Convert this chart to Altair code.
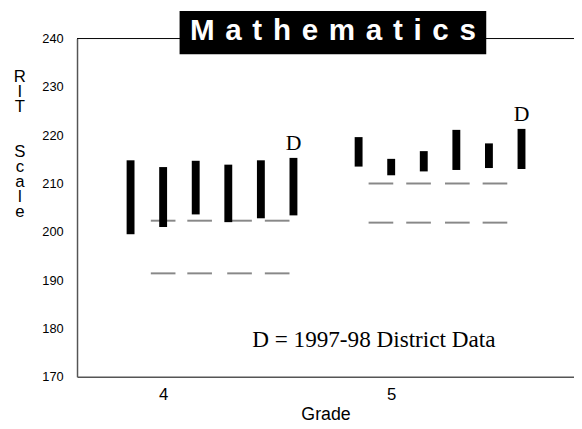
import altair as alt
import pandas as pd

# ---- data ----
bar_grade = [4, 4, 4, 4, 4, 4, 5, 5, 5, 5, 5, 5]
bar_slot = [0, 1, 2, 3, 4, 5, 0, 1, 2, 3, 4, 5]
bar_low = [199.5, 201.0, 203.6, 202.0, 202.8, 203.4,
           213.5, 211.7, 212.5, 212.8, 213.2, 213.0]
bar_high = [214.8, 213.4, 214.7, 213.9, 214.8, 215.3,
            219.6, 215.1, 216.7, 221.1, 218.3, 221.3]
bar_label = ["", "", "", "", "", "D", "", "", "", "", "", "D"]

dash_x = [4.0, 4.16, 4.335, 4.50, 4.955, 5.12, 5.29, 5.455]
dash_upper = [202.3, 202.3, 202.3, 202.3, 210.0, 210.0, 210.0, 210.0]
dash_lower = [191.4, 191.4, 191.4, 191.4, 201.9, 201.9, 201.9, 201.9]

x_ticks = [4, 5]
y_ticks = [170, 180, 190, 200, 210, 220, 230, 240]
title_text = "Mathematics"
y_title_1 = ["R", "I", "T"]
y_title_2 = ["S", "c", "a", "l", "e"]
x_title = "Grade"
footnote = "D = 1997-98 District Data"

W, H = 504, 343
LH = 15.2

bars_df = pd.DataFrame({"grade": bar_grade, "slot": bar_slot,
                        "low": bar_low, "high": bar_high, "label": bar_label})
dash_df = pd.DataFrame({"x": dash_x * 2, "v": dash_upper + dash_lower})

x_scale = alt.Scale(domain=[3.644, 5.780], nice=False, zero=False)
y_scale = alt.Scale(domain=[170, 240], nice=False, zero=False)

x_axis = alt.Axis(values=x_ticks, format="d", grid=False, ticks=False, tickSize=0,
                  domainColor="#555555", domainWidth=1.5,
                  labelFont="Liberation Sans", labelFontSize=17, labelColor="black",
                  labelBaseline="alphabetic", labelPadding=23,
                  title=x_title, titleFont="Liberation Sans", titleFontSize=18,
                  titleFontWeight="normal", titleColor="black",
                  titleBaseline="alphabetic", titleY=43, titleX=W / 2, titleAlign="center")
y_axis = alt.Axis(values=y_ticks, grid=False, ticks=False, tickSize=0,
                  domainColor="#555555", domainWidth=1.5,
                  labelFont="Liberation Sans", labelFontSize=13, labelColor="black",
                  labelPadding=14, title=None)

base = alt.Chart(bars_df).transform_calculate(
    xpos="datum.grade + (datum.slot - 1) / 7"
)

bars = base.mark_bar(size=8, color="black").encode(
    x=alt.X("xpos:Q", scale=x_scale, axis=x_axis),
    y=alt.Y("low:Q", scale=y_scale, axis=y_axis),
    y2="high:Q",
)

dlabels = base.transform_filter("datum.label != ''").mark_text(
    font="Liberation Serif", fontSize=22, baseline="alphabetic", dy=-8, color="black"
).encode(
    x=alt.X("xpos:Q", scale=x_scale),
    y=alt.Y("high:Q", scale=y_scale),
    text="label:N",
)

dashes = alt.Chart(dash_df).mark_tick(
    orient="horizontal", size=25, thickness=2, color="#555555"
).encode(
    x=alt.X("x:Q", scale=x_scale),
    y=alt.Y("v:Q", scale=y_scale),
)

one = pd.DataFrame({"t": [title_text]})

top_line = alt.Chart(one).mark_rule(color="black", strokeWidth=1).encode(
    x=alt.value(0), x2=alt.value(W), y=alt.value(0)
)

title_box = alt.Chart(one).mark_rect(color="black").encode(
    x=alt.value(104), x2=alt.value(415), y=alt.value(-28), y2=alt.value(16)
)

spaced = ("\u0020\u200a").join(list(title_text))
title_txt = alt.Chart(one).mark_text(
    font="Liberation Sans", fontSize=30, fontWeight="bold", color="white",
    align="center", baseline="alphabetic", text=spaced
).encode(x=alt.value(259.5), y=alt.value(1))

ytitle_a = alt.Chart(one).mark_text(
    font="Liberation Sans", fontSize=17, color="black",
    align="center", baseline="alphabetic", lineHeight=LH, text=y_title_1
).encode(x=alt.value(-58), y=alt.value(44))

ytitle_b = alt.Chart(one).mark_text(
    font="Liberation Sans", fontSize=17, color="black",
    align="center", baseline="alphabetic", lineHeight=LH, text=y_title_2
).encode(x=alt.value(-58), y=alt.value(44 + 5 * LH))

foot = alt.Chart(one).mark_text(
    font="Liberation Serif", fontSize=23.5, color="black",
    align="center", baseline="alphabetic", text=footnote
).encode(x=alt.value(301), y=alt.value(313))

chart = alt.layer(
    top_line, dashes, bars, dlabels, foot, title_box, title_txt, ytitle_a, ytitle_b
).properties(
    width=W, height=H,
    autosize=alt.AutoSizeParams(type="none"),
    padding={"left": 70, "top": 28, "right": 0, "bottom": 50},
    background="white",
).configure_view(stroke="transparent")

chart.save("out.html", embed_options={"renderer": "svg", "actions": False})
